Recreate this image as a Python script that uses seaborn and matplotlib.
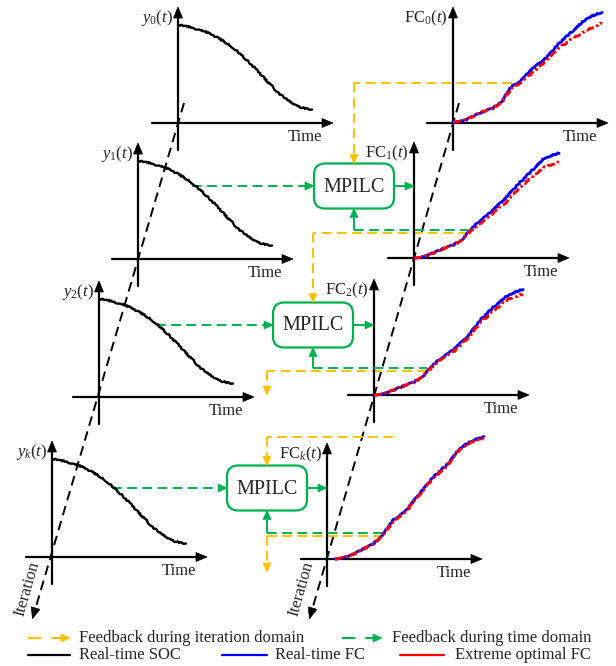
import matplotlib
matplotlib.use('Agg')
import matplotlib.pyplot as plt
import seaborn as sns
from matplotlib.patches import Polygon, FancyBboxPatch

# ---------------- data ----------------
# SOC curve, time as fraction of the axis, SOC as fraction of full scale
soc_t = [0, .05, .10, .15, .20, .25, .30, .35, .40, .45, .50, .55, .60, .65, .70,
         .75, .80, .85, .90, .95, 1.0]
soc_y = [.98, .97, .955, .935, .915, .885, .85, .81, .765, .71, .645, .58, .51, .44,
         .37, .30, .245, .20, .165, .145, .13]

# fuel-consumption curves (real-time FC in blue, extreme optimal FC in red)
fc_t = [0, .085, .18, .27, .33, .39, .45, .54, .63, .72, .81, .90, 1.0]
fc0_blue = [.01, .03, .10, .15, .22, .36, .42, .55, .66, .81, .93, 1.05, 1.11]
fc0_red = [.01, .03, .10, .15, .21, .34, .40, .51, .63, .76, .85, .93, 1.00]
fc1_blue = [0, .02, .08, .13, .18, .28, .37, .47, .60, .74, .87, 1.00, 1.05]
fc1_red = [0, .02, .08, .13, .18, .27, .34, .44, .55, .69, .81, .91, .96]
fc2_blue = [0, .02, .08, .13, .19, .29, .37, .46, .59, .76, .89, 1.00, 1.06]
fc2_red = [0, .02, .08, .13, .19, .28, .36, .44, .57, .73, .85, .96, 1.01]
fck_t = [.05, .146, .23, .295, .359, .423, .508, .592, .677, .763, .847, .93, 1.0]
fck_blue = [0, .03, .10, .15, .25, .39, .49, .66, .82, .94, 1.11, 1.19, 1.22]
fck_red = [0, .03, .10, .15, .24, .38, .48, .65, .81, .93, 1.10, 1.18, 1.21]

soc_labels = [r'$y_0(t)$', r'$y_1(t)$', r'$y_2(t)$', r'$y_k(t)$']
fc_labels = [r'$\mathrm{FC}_0(t)$', r'$\mathrm{FC}_1(t)$', r'$\mathrm{FC}_2(t)$', r'$\mathrm{FC}_k(t)$']
time_label = 'Time'
iter_label = 'Iteration'
box_label = 'MPILC'
legend_row1 = ['Feedback during iteration domain', 'Feedback during time domain']
legend_row2 = ['Real-time SOC', 'Real-time FC', 'Extreme optimal FC']

# ---------------- style ----------------
sns.set_theme(style='white')
plt.rcParams['font.family'] = ['Liberation Serif', 'DejaVu Serif']
plt.rcParams['mathtext.fontset'] = 'custom'
plt.rcParams['mathtext.rm'] = 'Liberation Serif'
plt.rcParams['mathtext.it'] = 'Liberation Serif:italic'

YEL = '#FFC000'
GRN = '#00B050'
BLU = '#0000FF'
RED = '#FF0000'
FS = 12

W, H = 616, 666
fig = plt.figure(figsize=(W / 100, H / 100), dpi=100)
fig.patch.set_facecolor('white')
ax0 = fig.add_axes([0, 0, 1, 1])
ax0.set_xlim(0, W)
ax0.set_ylim(H, 0)
ax0.axis('off')


def head(x, y, dx, dy, color, L=10, w=4.5):
    bx, by = x - L * dx, y - L * dy
    px, py = -dy, dx
    ax0.add_patch(Polygon([(x, y), (bx + w * px, by + w * py), (bx - w * px, by - w * py)],
                          closed=True, facecolor=color, edgecolor=color, lw=0.5, zorder=5))


DASH = (0, (5, 2.8))


def seg(xs, ys, color, dashed=False, lw=1.4, z=3):
    ax0.plot(xs, ys, color=color, lw=lw, linestyle=DASH if dashed else '-',
             solid_capstyle='butt', dash_capstyle='butt', zorder=z)


# ---------------- panel geometry ----------------
soc_origins = [(178, 123), (138, 259), (99, 397), (52, 557)]
fc_origins = [(453, 123), (414, 258), (374, 395), (327, 559)]
soc_w = 134
fc_w = [149, 145, 149, 157]
unit_h = 100


def axes_frame(ox, oy, label):
    ax0.plot([ox - 26, ox + 146], [oy, oy], color='black', lw=1.6, zorder=4)
    head(ox + 155, oy, 1, 0, 'black', L=11, w=4.5)
    ax0.plot([ox, ox], [oy + 27, oy - 107], color='black', lw=1.6, zorder=4)
    head(ox, oy - 116, 0, -1, 'black', L=11, w=4.5)
    ax0.text(ox - 5, oy - 105, label, ha='right', va='center', fontsize=FS)
    ax0.text(ox + 144, oy + 14, time_label, ha='right', va='center', fontsize=FS)


def panel_axes(ox, oy, w):
    a = fig.add_axes([ox / W, (H - oy) / H, w / W, unit_h / H])
    a.set_xlim(0, 1)
    a.set_ylim(0, 1)
    a.axis('off')
    return a


for i, (ox, oy) in enumerate(soc_origins):
    axes_frame(ox, oy, soc_labels[i])
for i, (ox, oy) in enumerate(fc_origins):
    axes_frame(ox, oy, fc_labels[i])

# iteration dashed axes
for (x_top, y_top, x_end, y_end, tx) in [(184, 103, 35, 610, 27), (459, 103, 312, 610, 301)]:
    ax0.plot([x_top, x_end], [y_top, y_end], color='black', lw=1.4,
             linestyle=(0, (5, 3)), zorder=2)
    dx, dy = x_end - x_top, y_end - y_top
    n = (dx ** 2 + dy ** 2) ** 0.5
    head(x_end + dx / n * 9, y_end + dy / n * 9, dx / n, dy / n, 'black', L=11, w=4.5)
    ax0.text(tx, 589, iter_label, rotation=74, ha='center', va='center', fontsize=FS)

# curves (slightly rough stroke to mimic the measured signals)
for (ox, oy) in soc_origins:
    a = panel_axes(ox, oy, soc_w)
    sns.lineplot(x=soc_t, y=soc_y, ax=a, color='black', lw=1.7, estimator=None,
                 sort=False, legend=False)
    for l in a.lines:
        l.set_clip_on(False)
        l.set_sketch_params(scale=0.7, length=2.5, randomness=8)

fc_sets = [(fc_t, fc0_blue, fc0_red), (fc_t, fc1_blue, fc1_red),
           (fc_t, fc2_blue, fc2_red), (fck_t, fck_blue, fck_red)]
for (ox, oy), w, (tt, b, r) in zip(fc_origins, fc_w, fc_sets):
    a = panel_axes(ox, oy, w)
    sns.lineplot(x=tt, y=b, ax=a, color=BLU, lw=2.0, estimator=None, sort=False, legend=False)
    sns.lineplot(x=tt, y=r, ax=a, color=RED, lw=2.0, estimator=None, sort=False,
                 legend=False, linestyle=(0, (3, 1, 1, 1)))
    for l in a.lines:
        l.set_clip_on(False)
        l.set_sketch_params(scale=0.6, length=3, randomness=8)

# ---------------- MPILC boxes and feedback paths ----------------
box_centers = [(354, 186), (313, 325), (267, 488)]
bw, bh = 80, 45
green_start = [192, 156, 112]
knee = [(468, 230), (427, 368), (383, 533)]
fc_axis_x = [414, 374, 327]

for i, (cx, cy) in enumerate(box_centers):
    ax0.add_patch(FancyBboxPatch((cx - bw / 2, cy - bh / 2), bw, bh,
                                 boxstyle='round,pad=0,rounding_size=11',
                                 facecolor='white', edgecolor=GRN, lw=1.6, zorder=4))
    ax0.text(cx, cy + 1, box_label, ha='center', va='center', fontsize=14.5, zorder=6)
    # time-domain input
    seg([green_start[i], cx - bw / 2 - 9], [cy, cy], GRN, dashed=True)
    head(cx - bw / 2, cy, 1, 0, GRN, L=9, w=4)
    # output
    seg([cx + bw / 2, fc_axis_x[i] - 9], [cy, cy], GRN)
    head(fc_axis_x[i], cy, 1, 0, GRN, L=9, w=4)
    # feedback from FC knee
    kx, ky = knee[i]
    seg([cx, kx], [ky, ky], GRN, dashed=True, z=4)
    seg([cx, cx], [ky, cy + bh / 2 + 9], GRN)
    head(cx, cy + bh / 2, 0, -1, GRN, L=9, w=4)
    # iteration-domain feedback
    if i < 2:
        nx, ny = box_centers[i + 1]
        seg([kx, nx], [ky + 2.5, ky + 2.5], YEL, dashed=True)
        if i == 0:
            seg([nx, nx], [ky + 2.5, ny - bh / 2 - 9], YEL, dashed=True)
            head(nx, ny - bh / 2, 0, 1, YEL, L=9, w=4)
        else:
            seg([nx, nx], [ky + 2.5, 386], YEL, dashed=True)
            head(nx, 395, 0, 1, YEL, L=9, w=4)
    else:
        seg([kx, cx], [ky + 2.5, ky + 2.5], YEL, dashed=True)
        seg([cx, cx], [ky + 2.5, 563], YEL, dashed=True)
        head(cx, 572, 0, 1, YEL, L=9, w=4)

# feedback into first and k-th box from above
seg([512, 354], [83, 83], YEL, dashed=True)
seg([354, 354], [83, 186 - bh / 2 - 9], YEL, dashed=True)
head(354, 186 - bh / 2, 0, 1, YEL, L=9, w=4)
seg([393, 267], [437, 437], YEL, dashed=True)
seg([267, 267], [437, 488 - bh / 2 - 9], YEL, dashed=True)
head(267, 488 - bh / 2, 0, 1, YEL, L=9, w=4)

# ---------------- legend ----------------
ax0.plot([28, 62], [638, 638], color=YEL, lw=1.6, linestyle=(0, (6, 4.5)))
head(70, 638, 1, 0, YEL, L=9, w=4)
ax0.text(79, 638, legend_row1[0], ha='left', va='center', fontsize=FS)
ax0.plot([342, 374], [638, 638], color=GRN, lw=1.6, linestyle=(0, (6, 4.5)))
head(382, 638, 1, 0, GRN, L=9, w=4)
ax0.text(392, 638, legend_row1[1], ha='left', va='center', fontsize=FS)

for (x0, x1, tx, c, lab) in [(28, 70, 79, 'black', legend_row2[0]),
                             (222, 267, 275, BLU, legend_row2[1]),
                             (400, 444, 455, RED, legend_row2[2])]:
    ax0.plot([x0, x1], [655, 655], color=c, lw=1.6)
    ax0.text(tx, 655, lab, ha='left', va='center', fontsize=FS)

fig.savefig('out.png', dpi=100, facecolor='white')
